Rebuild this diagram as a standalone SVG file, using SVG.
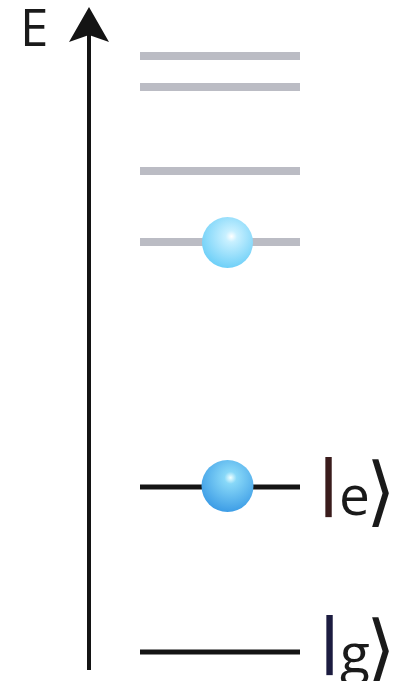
<svg xmlns="http://www.w3.org/2000/svg" width="395" height="681" viewBox="0 0 395 681">
<style>
.gray{stroke:#bbbcc4;stroke-width:8}
.black{stroke:#141414;stroke-width:5}
.lbl{font-family:"Open Sans","DejaVu Sans",sans-serif;font-size:55px;fill:#1a1a1a}
.bar{font-size:60px;font-weight:bold}
.br{font-family:"DejaVu Sans",sans-serif;font-size:76px;font-weight:200}
</style>
<defs>
<radialGradient id="g1" cx="0.55" cy="0.38" r="0.62" fx="0.58" fy="0.38">
<stop offset="0" stop-color="#ffffff"/>
<stop offset="0.18" stop-color="#c8f0ff"/>
<stop offset="1" stop-color="#6fd0f8"/>
</radialGradient>
<radialGradient id="g2" cx="0.55" cy="0.35" r="0.65" fx="0.56" fy="0.34">
<stop offset="0" stop-color="#f0ffff"/>
<stop offset="0.18" stop-color="#88d8f8"/>
<stop offset="1" stop-color="#3d9de6"/>
</radialGradient>
</defs>
<rect width="395" height="681" fill="#ffffff"/>
<g id="axis">
<line x1="89" y1="670" x2="89" y2="35" stroke="#141414" stroke-width="4"/>
<path d="M89 7 L109 42 L89 35 L69 42 Z" fill="#141414"/>
<text x="20" y="46" font-family="Open Sans, DejaVu Sans, sans-serif" font-size="51" fill="#1a1a1a">E</text>
</g>
<g id="levels">
<line class="gray" x1="140" y1="56" x2="300" y2="56"/>
<line class="gray" x1="140" y1="87" x2="300" y2="87"/>
<line class="gray" x1="140" y1="171" x2="300" y2="171"/>
<line class="gray" x1="140" y1="242" x2="300" y2="242"/>
<line class="black" x1="140" y1="487" x2="300" y2="487"/>
<line class="black" x1="140" y1="652" x2="300" y2="652"/>
</g>
<g id="ball-upper">
<circle cx="227.5" cy="242.5" r="25.5" fill="url(#g1)"/>
</g>
<g id="ball-lower">
<circle cx="227.5" cy="486" r="26" fill="url(#g2)"/>
</g>
<g id="label-e">
<text class="lbl" x="312" y="515"><tspan class="bar" dy="-12" fill="#3a1c1c">|</tspan><tspan dy="12" dx="-6">e</tspan><tspan class="br" dx="-4" dy="2">⟩</tspan></text>
</g>
<g id="label-g">
<text class="lbl" x="313" y="673"><tspan class="bar" dy="-12" fill="#1c1c40">|</tspan><tspan dy="12" dx="-6">g</tspan><tspan class="br" dx="-4" dy="2">⟩</tspan></text>
</g>
</svg>
